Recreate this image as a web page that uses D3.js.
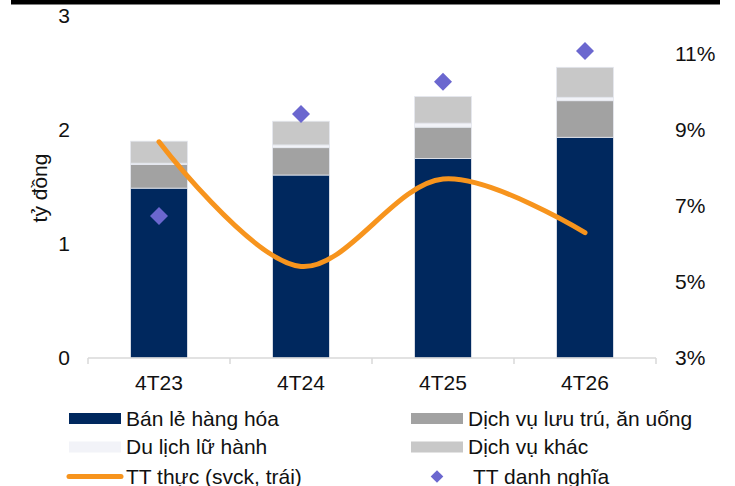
<!DOCTYPE html>
<html>
<head>
<meta charset="utf-8">
<script src="https://cdn.jsdelivr.net/npm/d3@7"></script>
<style>
  body { margin: 0; background: #fff; }
  svg { display: block; font-family: "Liberation Sans", Arial, sans-serif; }
</style>
</head>
<body>
<svg id="chart"></svg>
<script>
// categories and series
const periods = ['4T23', '4T24', '4T25', '4T26']
const banLe = [1.49, 1.605, 1.75, 1.936]       // Bán lẻ hàng hóa
const luuTru = [0.207, 0.24, 0.275, 0.321]     // Dịch vụ lưu trú, ăn uống
const duLich = [0.012, 0.024, 0.035, 0.03]     // Du lịch lữ hành
const khac = [0.193, 0.208, 0.233, 0.263]      // Dịch vụ khác
const ttThuc = [8.69, 5.41, 7.71, 6.30]        // TT thực (svck), %
const ttDanhNghia = [6.74, 9.42, 10.27, 11.08] // TT danh nghĩa, %
const leftTicks = [0, 1, 2, 3]
const rightTicks = [3, 5, 7, 9, 11]

const seriesNames = ['Bán lẻ hàng hóa', 'Dịch vụ lưu trú, ăn uống', 'Du lịch lữ hành', 'Dịch vụ khác']
const seriesKeys = ['banLe', 'luuTru', 'duLich', 'khac']
const colors = {
    banLe: '#00285e',
    luuTru: '#a2a2a2',
    duLich: '#f2f3f8',
    khac: '#c8c8c8',
    thuc: '#f7941d',
    danhNghia: '#6b67cf'
}

const width = 735, height = 486
const svg = d3.select('#chart').attr('width', width).attr('height', height)

// top black rule
svg.append('rect').attr('x', 11).attr('y', 0).attr('width', 709).attr('height', 4.5).attr('fill', '#000')

const table = periods.map((p, i) => ({
    period: p, banLe: banLe[i], luuTru: luuTru[i], duLich: duLich[i], khac: khac[i]
}))

const x = d3.scaleBand().domain(periods).range([88, 656]).paddingInner(0.6).paddingOuter(0.3)
const yLeft = d3.scaleLinear().domain([0, 3]).range([358, 16])
const yRight = d3.scaleLinear().domain([3, 12]).range([358, 16])

// stacked bars
const stack = d3.stack().keys(seriesKeys)(table)
svg.append('g')
    .selectAll('g')
    .data(stack)
    .join('g')
    .attr('fill', d => colors[d.key])
    .selectAll('rect')
    .data(d => d)
    .join('rect')
    .attr('x', d => x(d.data.period))
    .attr('width', x.bandwidth())
    .attr('y', d => yLeft(d[1]))
    .attr('height', d => yLeft(d[0]) - yLeft(d[1]))
    .attr('stroke', '#e4e7ee')
    .attr('stroke-width', 0.8)

// x axis line with ticks at category boundaries
const xAxisG = svg.append('g').attr('stroke', '#d9d9d9').attr('stroke-width', 1.5)
xAxisG.append('line').attr('x1', 88).attr('x2', 656).attr('y1', 358).attr('y2', 358)
const bounds = periods.map(p => x(p) - x.step() * 0.3).concat([656])
xAxisG.selectAll('.tick')
    .data(bounds)
    .join('line')
    .attr('x1', d => d).attr('x2', d => d)
    .attr('y1', 358).attr('y2', 364)

svg.append('g')
    .selectAll('text')
    .data(periods)
    .join('text')
    .attr('x', d => x(d) + x.bandwidth() / 2)
    .attr('y', 383)
    .attr('dy', '0.35em')
    .attr('text-anchor', 'middle')
    .attr('font-size', 21)
    .attr('fill', '#111')
    .text(d => d)

// left axis labels
svg.append('g')
    .selectAll('text')
    .data(leftTicks)
    .join('text')
    .attr('x', 70)
    .attr('y', d => yLeft(d))
    .attr('dy', '0.35em')
    .attr('text-anchor', 'end')
    .attr('font-size', 21)
    .attr('fill', '#111')
    .text(d => d)

svg.append('text')
    .attr('transform', 'translate(40,188) rotate(-90)')
    .attr('dy', '0.35em')
    .attr('text-anchor', 'middle')
    .attr('font-size', 21)
    .attr('fill', '#111')
    .text('tỷ đồng')

// right axis labels
svg.append('g')
    .selectAll('text')
    .data(rightTicks)
    .join('text')
    .attr('x', 675)
    .attr('y', d => yRight(d))
    .attr('dy', '0.35em')
    .attr('font-size', 21)
    .attr('fill', '#111')
    .text(d => d + '%')

// smoothed real growth line
const cx = d => x(d) + x.bandwidth() / 2
const line = d3.line()
    .x((d, i) => cx(periods[i]))
    .y(d => yRight(d))
    .curve(d3.curveCatmullRom)
svg.append('path')
    .datum(ttThuc)
    .attr('d', line)
    .attr('fill', 'none')
    .attr('stroke', colors.thuc)
    .attr('stroke-width', 5)
    .attr('stroke-linecap', 'round')

// nominal growth diamonds
const diamond = d3.symbol().type(d3.symbolSquare).size(162)
svg.append('g')
    .selectAll('path')
    .data(ttDanhNghia)
    .join('path')
    .attr('d', diamond)
    .attr('transform', (d, i) => `translate(${cx(periods[i])},${yRight(d)}) rotate(45)`)
    .attr('fill', colors.danhNghia)

// legend
const legend = svg.append('g').attr('font-size', 21).attr('fill', '#111')
const legendItems = [
    {key: 'banLe', label: seriesNames[0], col: 0, row: 0, kind: 'rect'},
    {key: 'luuTru', label: seriesNames[1], col: 1, row: 0, kind: 'rect'},
    {key: 'duLich', label: seriesNames[2], col: 0, row: 1, kind: 'rect'},
    {key: 'khac', label: seriesNames[3], col: 1, row: 1, kind: 'rect'},
    {key: 'thuc', label: 'TT thực (svck, trái)', col: 0, row: 2, kind: 'line'},
    {key: 'danhNghia', label: 'TT danh nghĩa', col: 1, row: 2, kind: 'diamond'}
]
const colX = [69, 411]
const rowY = [418.5, 447, 476.5]

legendItems.forEach(item => {
    const lx = colX[item.col], ly = rowY[item.row]
    if (item.kind === 'rect') {
        legend.append('rect')
            .attr('x', lx).attr('y', ly - 5.5)
            .attr('width', 52).attr('height', 11)
            .attr('fill', colors[item.key])
        legend.append('text').attr('x', lx + 57).attr('y', ly).attr('dy', '0.35em').text(item.label)
    } else if (item.kind === 'line') {
        legend.append('line')
            .attr('x1', lx).attr('x2', lx + 52)
            .attr('y1', ly).attr('y2', ly)
            .attr('stroke', colors.thuc).attr('stroke-width', 5).attr('stroke-linecap', 'round')
        legend.append('text').attr('x', lx + 57).attr('y', ly).attr('dy', '0.35em').text(item.label)
    } else {
        legend.append('path')
            .attr('d', d3.symbol().type(d3.symbolSquare).size(80))
            .attr('transform', `translate(${lx + 26},${ly}) rotate(45)`)
            .attr('fill', colors.danhNghia)
        legend.append('text').attr('x', lx + 62).attr('y', ly).attr('dy', '0.35em').text(item.label)
    }
})
</script>
</body>
</html>
